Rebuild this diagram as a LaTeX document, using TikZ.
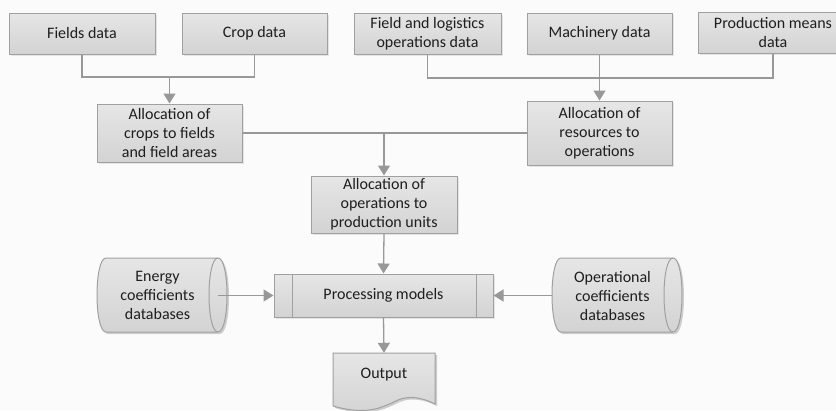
\documentclass[tikz,border=0pt]{standalone}
\usepackage{fontspec}
\setmainfont{Carlito}
\usetikzlibrary{arrows.meta,shadows,calc}
\definecolor{bgc}{HTML}{FBFBFB}
\definecolor{fillA}{HTML}{E6E6E6}
\definecolor{fillB}{HTML}{D3D3D3}
\definecolor{bordc}{HTML}{A0A0A0}
\definecolor{linec}{HTML}{989898}
\definecolor{textc}{HTML}{1E1E1E}
\tikzset{
  box/.style={draw=bordc, line width=1pt, top color=fillA, bottom color=fillB,
    text=textc, align=center, inner sep=0pt,
    drop shadow={opacity=0.18, shadow xshift=2pt, shadow yshift=-2pt}},
  plain/.style={draw=none, text=textc, align=center, inner sep=0pt},
  conn/.style={draw=linec, line width=1.3pt},
  arr/.style={conn, -{Triangle[width=12pt,length=10pt]}},
  shapefill/.style={draw=bordc, line width=1pt, top color=fillA, bottom color=fillB},
  shadowfill/.style={fill=black, opacity=0.18}
}
% cylinder: x0 = left extreme, xc = centre of right end, top, bottom
\newcommand\dbcyl[4]{%
  \path[shadowfill] ({#1+11},{#3+2}) -- ({#2+2},{#3+2}) .. controls ({#2+14},{#3+2}) and ({#2+14},{#4+2}) .. ({#2+2},{#4+2})
     -- ({#1+11},{#4+2}) .. controls ({#1-1},{#4+2}) and ({#1-1},{#3+2}) .. ({#1+11},{#3+2}) -- cycle;
  \path[shapefill] ({#1+9},#3) -- (#2,#3) .. controls ({#2+12},#3) and ({#2+12},#4) .. (#2,#4)
     -- ({#1+9},#4) .. controls ({#1-3},#4) and ({#1-3},#3) .. ({#1+9},#3) -- cycle;
  \draw[draw=bordc, line width=1pt] (#2,#3) .. controls ({#2-12},#3) and ({#2-12},#4) .. (#2,#4);
}
\begin{document}
\begin{tikzpicture}[x=1pt, y=-1pt, font=\fontsize{16}{19}\selectfont]
\useasboundingbox (0,0) rectangle (836,410);
\clip (0,0) rectangle (836,410);
\fill[bgc] (0,0) rectangle (836,410);

% top row
\node[box, minimum width=146pt, minimum height=41pt] (fd) at (82,33.5) {Fields data};
\node[box, minimum width=145pt, minimum height=41pt] (cd) at (254.5,33.5) {Crop data};
\node[box, minimum width=147pt, minimum height=41pt] (fl) at (427.5,33.5) {Field and logistics\\operations data};
\node[box, minimum width=145pt, minimum height=41pt] (md) at (599.5,33.5) {Machinery data};
\node[box, minimum width=150pt, minimum height=41pt] (pm) at (773,32.5) {Production means\\data};

% allocation boxes
\node[box, minimum width=145pt, minimum height=58pt] (ac) at (169.5,133) {Allocation of\\crops to fields\\and field areas};
\node[box, minimum width=145pt, minimum height=64pt] (ar) at (599.5,133) {Allocation of\\resources to\\operations};
\node[box, minimum width=146pt, minimum height=57pt] (ao) at (384,204.5) {Allocation of\\operations to\\production units};

% processing
\node[box, minimum width=219pt, minimum height=43pt] (pr) at (383.5,295.5) {};
\draw[draw=bordc, line width=1pt] ($(pr.north west)+(19,0)$) -- ($(pr.south west)+(19,0)$);
\draw[draw=bordc, line width=1pt] ($(pr.north east)+(-17,0)$) -- ($(pr.south east)+(-17,0)$);
\node[plain] at (pr.center) {Processing models};

% databases
\dbcyl{97}{218}{258}{332}
\dbcyl{552}{673}{258}{332}
\node[plain, minimum width=121pt, minimum height=74pt] (ec) at (157.5,295.5) {Energy\\coefficients\\databases};
\node[plain, minimum width=121pt, minimum height=74pt] (oc) at (612.5,295.5) {Operational\\coefficients\\databases};

% output document
\path[shadowfill] (335,355) -- (437,355) -- (437,406) .. controls (425,400) and (412,397) .. (400,402)
   .. controls (385,409) and (370,418) .. (335,408) -- cycle;
\path[shapefill] (333,353) -- (435,353) -- (435,404) .. controls (423,398) and (410,395) .. (398,400)
   .. controls (383,407) and (368,416) .. (333,406) -- cycle;
\node[plain, minimum width=102pt, minimum height=44pt] (out) at (384,375) {Output};

% connectors
\coordinate (j1) at (169.5,77);
\draw[conn] (fd.south) |- (cd.south |- j1) -- (cd.south);
\draw[arr] (j1) -- (ac.north);

\coordinate (j2) at (599.5,78);
\draw[conn] (fl.south) |- (pm.south |- j2) -- (pm.south);
\draw[arr] (md.south) -- (ar.north);

\draw[conn] (ac.east) -- (ar.west);
\draw[arr] (ac.east -| ao.north) -- (ao.north);

\draw[arr] (ao.south) -- (pr.north);
\draw[arr] (ec.east) -- (pr.west);
\draw[arr] (oc.west) -- (pr.east);
\draw[arr] (pr.south) -- (out.north);
\end{tikzpicture}
\end{document}
